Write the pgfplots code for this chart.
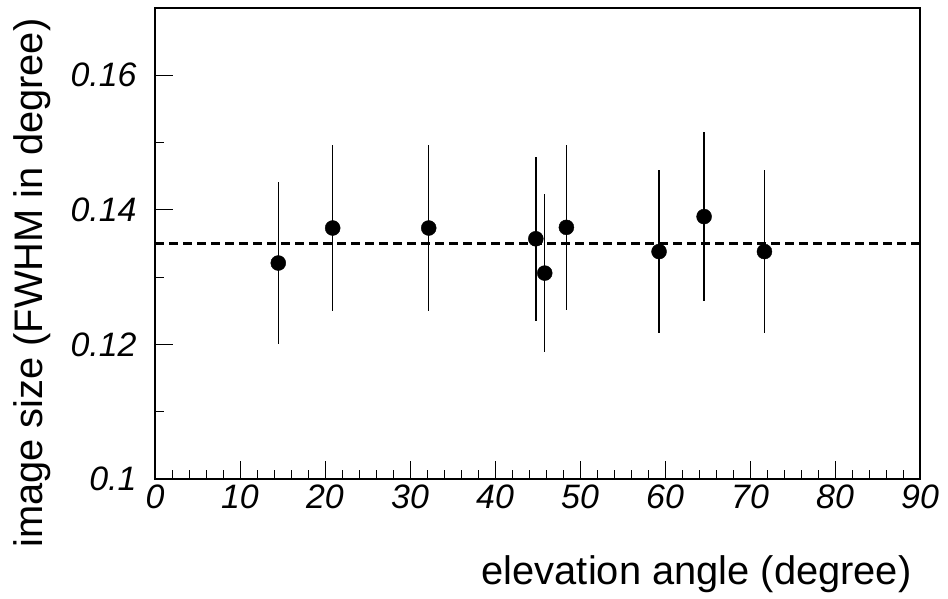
\documentclass[border=0pt]{standalone}
\usepackage{fontspec}
\setmainfont{Liberation Sans}
\usepackage{pgfplots}
\pgfplotsset{compat=1.18}
\begin{document}
\begin{tikzpicture}[x=1bp,y=1bp]
\useasboundingbox (0,0) rectangle (948,599);
\begin{axis}[
  at={(155bp,120bp)}, anchor=south west,
  scale only axis, width=765bp, height=471bp,
  xmin=0, xmax=90, ymin=0.1, ymax=0.17,
  xtick={0,10,...,90}, minor x tick num=4,
  ytick={0.1,0.12,0.14,0.16}, minor y tick num=1,
  tick pos=left, tick align=inside,
  major tick length=18bp, minor tick length=9bp,
  every tick/.style={line width=1bp, black},
  axis line style={line width=1.6bp},
  scaled y ticks=false,
  /pgf/number format/assume math mode=true,
  yticklabel style={/pgf/number format/fixed, /pgf/number format/precision=2, xshift=-15bp},
  xticklabel style={yshift=-2bp},
  ticklabel style={font=\fontsize{34}{40}\selectfont\itshape},
  label style={font=\fontsize{40}{46}\selectfont},
  xlabel={elevation angle (degree)},
  xlabel style={at={(rel axis cs:1,0)}, anchor=base east, yshift=-106bp, xshift=-5bp},
  ylabel={image size (FWHM in degree)},
  ylabel style={at={(rel axis cs:0,1)}, anchor=base east, xshift=-7bp, yshift=112bp},
  clip=false,
]
\addplot[black, line width=2.5bp, dash pattern=on 9bp off 5bp, forget plot] coordinates {(0,0.135) (90,0.135)};
\addplot[only marks, mark=*, mark size=7.5bp, black,
  error bars/.cd, y dir=both, y explicit, error mark=none,
  error bar style={line width=1.4bp, black}]
coordinates {
 (14.5,0.1321) +- (0,0.0121)
 (20.9,0.1373) +- (0,0.0123)
 (32.2,0.1373) +- (0,0.0123)
 (44.8,0.1357) +- (0,0.0122)
 (45.85,0.1306) +- (0,0.0117)
 (48.4,0.1374) +- (0,0.0123)
 (59.3,0.1338) +- (0,0.0121)
 (64.6,0.1390) +- (0,0.0125)
 (71.7,0.1338) +- (0,0.0121)
};
\end{axis}
\end{tikzpicture}
\end{document}
